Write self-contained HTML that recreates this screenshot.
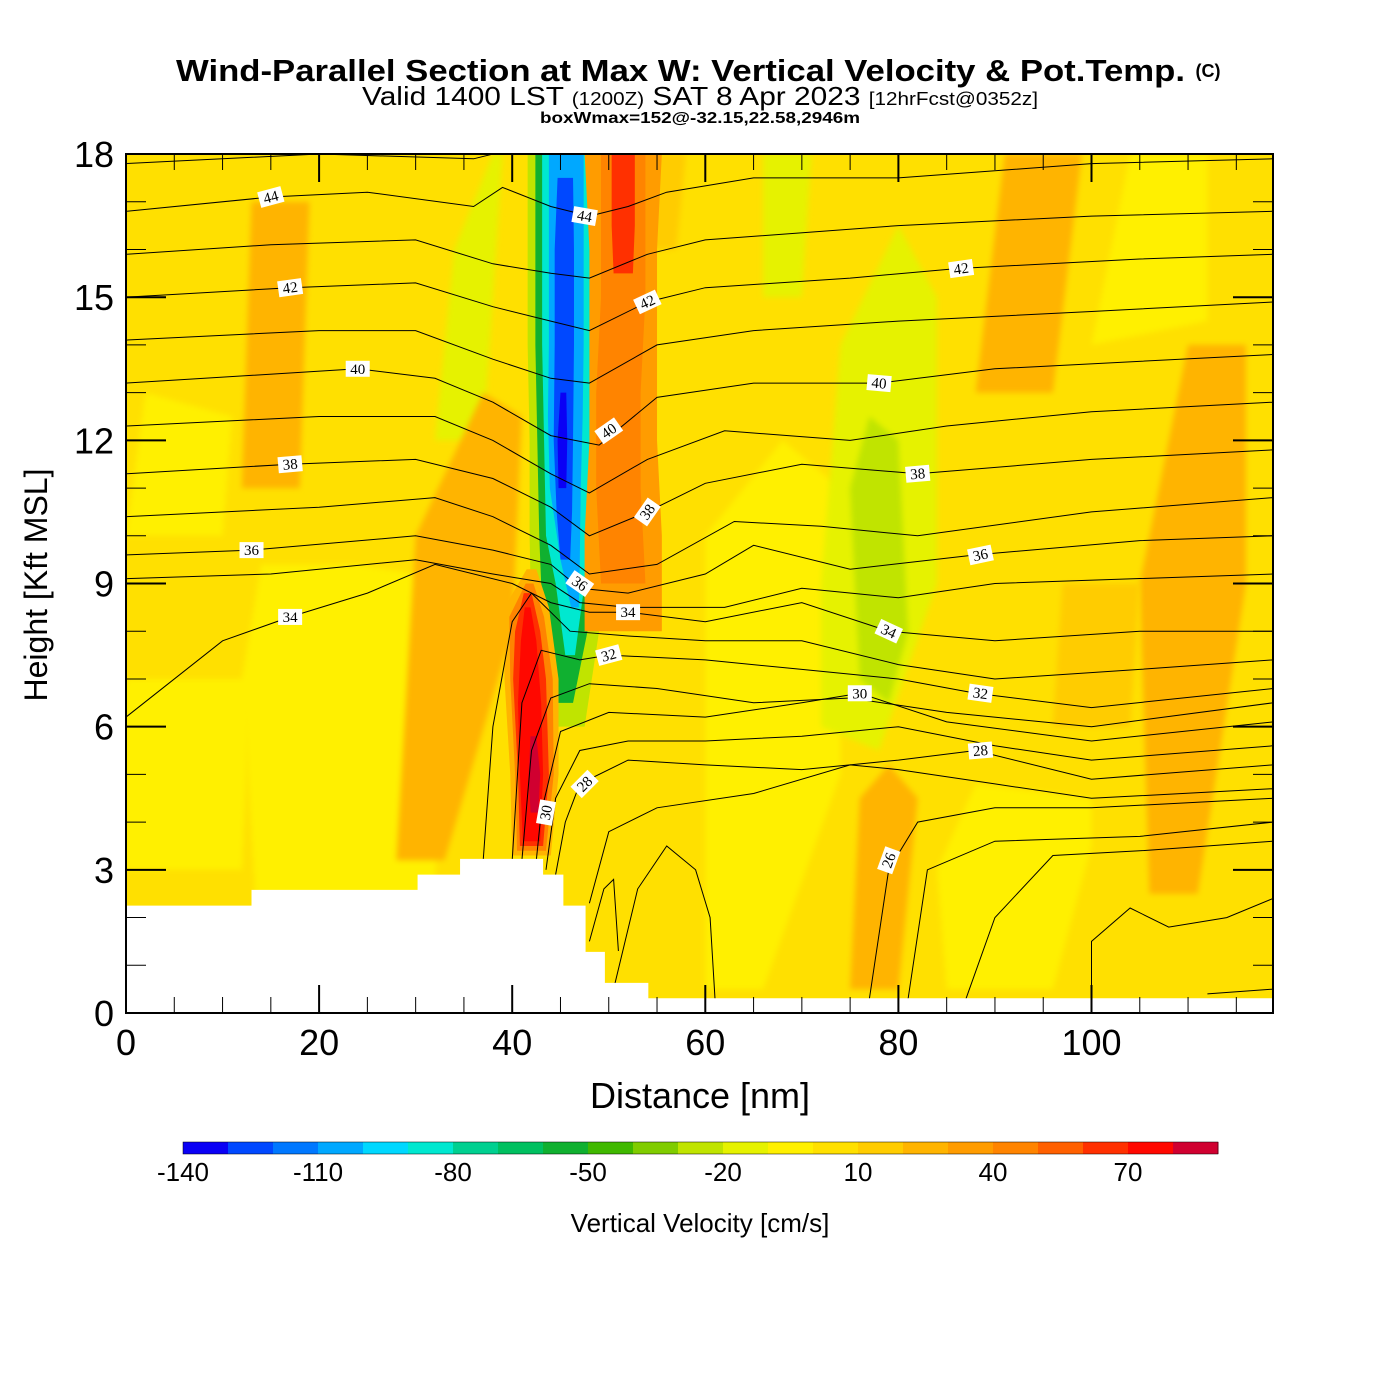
<!DOCTYPE html>
<html><head><meta charset="utf-8">
<style>
body{margin:0;background:#fff;width:1400px;height:1400px;overflow:hidden;font-family:"Liberation Sans",Arial,sans-serif}
svg{position:absolute;left:0;top:0}
</style></head>
<body>
<svg id="chart" width="1400" height="1400" viewBox="0 0 1400 1400" xmlns="http://www.w3.org/2000/svg">
<defs><clipPath id="pc"><rect x="126" y="154" width="1147" height="859"/></clipPath>
<filter id="bl" x="-20%" y="-20%" width="140%" height="140%"><feGaussianBlur stdDeviation="3"/></filter></defs>
<g>
<text x="176" y="81" font-size="31" font-weight="bold" textLength="1009" lengthAdjust="spacingAndGlyphs">Wind-Parallel Section at Max W: Vertical Velocity &amp; Pot.Temp.</text>
<text x="1208" y="77" text-anchor="middle" font-size="18" font-weight="bold">(C)</text>
<text x="362" y="105" font-size="26" textLength="676" lengthAdjust="spacingAndGlyphs"><tspan>Valid 1400 LST </tspan><tspan font-size="18">(1200Z)</tspan><tspan> SAT 8 Apr 2023 </tspan><tspan font-size="18">[12hrFcst@0352z]</tspan></text>
<text x="540" y="123" font-size="16" font-weight="bold" textLength="320" lengthAdjust="spacingAndGlyphs">boxWmax=152@-32.15,22.58,2946m</text>
</g>
<g id="field" clip-path="url(#pc)"></g>
<g id="contours" clip-path="url(#pc)"></g>
<g id="terrain"></g>
<g id="labels"></g>
<rect x="126" y="154" width="1147" height="859" fill="none" stroke="#000" stroke-width="2"/>
<g id="axes"></g>
<text x="700" y="1108" text-anchor="middle" font-size="36">Distance [nm]</text>
<text x="0" y="0" transform="translate(47,585) rotate(-90)" text-anchor="middle" font-size="32">Height [Kft MSL]</text>
<g id="cbar"></g>
<text x="700" y="1232" text-anchor="middle" font-size="26">Vertical Velocity [cm/s]</text>
</svg>
<script>
const cbValues=[-140,-130,-120,-110,-100,-90,-80,-70,-60,-50,-40,-30,-20,-10,0,10,20,30,40,50,60,70,80];
const cbColors=["#0a00f5","#0048ff","#0078ff","#00a8ff","#00d8ff","#00e8d0","#00d090","#00c060","#10b030","#40b800","#80cc00","#c0e400","#e6f200","#fff000","#ffe000","#ffcc00","#ffb400","#ff9c00","#ff8400","#ff6000","#ff3000","#ff0800","#d00030"];
const cbTicks=[-140,-110,-80,-50,-20,10,40,70];
const xTicks=[0,20,40,60,80,100];
const yTicks=[0,3,6,9,12,15,18];
const X=v=>126+v*9.655, Y=h=>1013-h*47.72;
const NS="http://www.w3.org/2000/svg";
function mk(tag,attrs,parent){const e=document.createElementNS(NS,tag);for(const k in attrs)e.setAttribute(k,attrs[k]);parent.appendChild(e);return e;}
function col(v){return cbColors[Math.max(0,Math.min(cbColors.length-1,Math.round((v+140)/10)))];}

const field=document.getElementById('field');
const fb=mk('rect',{x:126,y:154,width:1147,height:859,fill:col(0)},field);


const patchVel=[-10,-10,-10,-10,-10,-20,-20,-20,-30,20,20,20,20,20,10,10,-10];
const patchX=[[14,22,32,33,30,24,14,12],[60,66,74,74,68,60],[85,96,100,100,88,84],[100,112,112,104],[0,10,11,2],[32,37,39,38,34],[66,70,71,66],[72,78,84,84,80,74,72],[76,79,81,80,77,75],[12,18,19,13],[28,33,40,41,37,30],[75,80,82,79,76],[106,111,116,116,110,105],[88,96,99,91],[52,57,58,53],[96,104,105,97],[0,12,13,0]];
const patchH=[[0.5,0.5,2.6,8,9.2,9.4,9.4,7],[0.5,0.5,5,11,12,10],[0.5,0.5,3.5,4.5,4.8,3],[14,14.5,18,18],[10,10,12.5,13],[12,12,18,18,16],[15,15,18,18],[6,5.5,9,15,16.5,14,9],[7,6.5,8,12,12.5,11],[11,11,17,17],[3.2,3.2,8,12.5,13,10],[0.5,0.5,4.5,5.2,4.5],[2.5,2.5,9,14,14,9],[13,13,18,18],[16,16,18,18],[6,6,9,9],[3,3,7,7]];
patchVel.forEach((v,i)=>{
 const pts=patchX[i].map((x,j)=>X(x)+','+Y(patchH[i][j])).join(' ');
 const p=mk('polygon',{points:pts,fill:col(v),filter:'url(#bl)'},field);
 
 
});
const stripeVel=[-30,-60,-90,-110,-130,-140,30,40,60,20,40,60,70,80];
const stripeH=[[6,8,10,12,14,16,18],[6.5,8,10,12,14,16,18],[7.5,9,10,12,14,16,18],[8.5,9.5,11,12.5,14,16,18],[9.5,10.5,12,14,16,17.5],[11,12,13],[8,10,12,14,16,18],[9,11,13,15,16.5,18],[15.5,16.5,18],[3.3,5,7,8.5,9.3],[3.4,5,7,8.3,9],[3.5,5,7,8,8.8],[3.6,5,6.5,7.8,8.5],[4.2,5,5.8]];
const stripeC=[[45.5,45.5,45.8,45.8,45.6,45.6,45.6],[45.5,45.5,45.8,45.8,45.6,45.6,45.6],[46,46,45.8,45.8,45.6,45.6,45.6],[46.5,46,45.5,45.5,45.6,45.6,45.6],[45.5,45.4,45.3,45.4,45.4,45.5],[45.2,45.2,45.3],[51.5,51.5,51.5,51.5,51.5,51.5],[51.5,51,51,51.5,51.5,51.5],[51.5,51.5,51.5],[42,42.3,42,41.5,42],[42,42.3,42,41.5,41.8],[42,42.2,41.8,41.6,41.6],[42,42,41.8,41.7,41.6],[42.3,42.3,42.2]];
const stripeW=[[2,3.5,4,4,4,4,4],[0.8,2.3,3,3.2,3.2,3.2,3.2],[0.5,1.5,2.3,2.5,2.5,2.5,2.5],[0.4,1,1.6,1.8,1.8,1.8,1.8],[0.5,0.8,1,1,1,0.8],[0.4,0.5,0.3],[4,4,3.5,3.5,3.5,4],[2.3,2.3,2.3,2.3,2.3,2.3],[1,1.2,1.2],[2,2.5,2.8,2.3,0.5],[1.5,2,2.2,1.8,0.4],[1.2,1.6,1.7,1.3,0.4],[0.9,1.2,1.2,0.8,0.3],[0.4,0.6,0.3]];
stripeVel.forEach((v,i)=>{
 const H=stripeH[i],C=stripeC[i],W=stripeW[i];
 const L=H.map((h,j)=>X(C[j]-W[j])+','+Y(h)), R=H.map((h,j)=>X(C[j]+W[j])+','+Y(h)).reverse();
 const p=mk('polygon',{points:L.concat(R).join(' '),fill:col(v)},field);
 
 
});

const levels=[45,44,43,42,41,40,39,38,37,36,35,34,33,32,31,30,29,28,27,26];
const lvX=[[0,20,36,40,45,50,60,80,100,118.8],[0,15,25,36,39,44,48,52,56,65,80,100,118.8],[0,15,30,38,44,48,54,60,80,100,118.8],[0,17,30,38,44,48,54,60,75,86,105,118.8],[0,20,30,38,44,48,55,65,80,100,118.8],[0,24,32,38,44,49,55,65,78,90,118.8],[0,20,32,38,44,48,54,62,75,85,100,118.8],[0,17,30,38,44,48,54,60,70,82,100,118.8],[0,20,32,38,44,48,55,63,72,82,100,118.8],[0,13,30,38,44,47,52,60,65,75,88,105,118.8],[0,15,30,38,44,47,52,62,70,80,90,118.8],[0,10,17,25,32,40,44,48,52,60,70,79,90,105,118.8],[37,38,40,42,46,52,60,70,80,90,105,118.8],[40,41,43,47,50,60,70,80,88,100,118.8],[41,42,44,48,55,65,75,85,100,118.8],[42.5,43,45,50,60,70,76,85,100,118.8],[43.5,44.5,47,52,60,70,80,90,100,118.8],[44.5,45.5,47,52,60,70,80,88,100,118.8],[48,50,55,65,75,80,90,100,118.8],[77,79,82,90,100,118.8]];
const lvH=[[17.8,18.0,17.9,18.1,18.2,18.3,18.3,18.3,18.2,18.1],[16.8,17.1,17.2,16.9,17.3,16.9,16.7,16.9,17.2,17.5,17.5,17.8,17.9],[15.9,16.1,16.2,15.7,15.5,15.4,15.9,16.2,16.5,16.7,16.8],[15.0,15.2,15.3,14.8,14.5,14.3,14.9,15.2,15.4,15.6,15.8,15.9],[14.1,14.3,14.3,13.7,13.3,13.2,14.0,14.3,14.5,14.7,14.9],[13.2,13.5,13.3,12.8,12.1,11.9,12.9,13.2,13.2,13.5,13.8],[12.3,12.5,12.5,12.0,11.3,10.9,11.6,12.2,12.0,12.3,12.6,12.8],[11.3,11.5,11.6,11.2,10.6,10.0,10.5,11.1,11.5,11.3,11.6,11.8],[10.4,10.6,10.8,10.4,9.8,9.2,9.4,10.3,10.2,10.0,10.5,10.8],[9.6,9.7,10.0,9.7,9.4,8.9,8.8,9.2,9.8,9.3,9.6,9.9,10.0],[9.1,9.2,9.5,9.2,9.0,8.6,8.5,8.5,8.9,8.7,9.0,9.2],[6.2,7.8,8.3,8.8,9.4,9.0,8.6,8.4,8.4,8.2,8.6,8.0,7.8,8.0,8.0],[3.2,6,8.2,8.8,8.0,7.9,7.8,7.8,7.3,7.0,7.2,7.4],[3.2,6.5,7.6,7.4,7.5,7.4,7.2,7.0,6.7,6.4,6.8],[3.2,5.5,6.6,6.9,6.8,6.5,6.6,6.3,6.0,6.5],[3.2,4.2,5.9,6.3,6.2,6.5,6.7,6.1,5.7,6.1],[3.0,4.5,5.5,5.7,5.7,5.8,6.0,5.6,5.3,5.6],[2.9,4.0,4.8,5.3,5.2,5.1,5.3,5.5,4.9,5.2],[2.3,3.8,4.3,4.6,5.2,5.1,4.8,4.5,4.7],[0.3,3.0,4.0,4.3,4.3,4.5]];
const extraX=[[48,49.5,50.5,51],[50.5,53,56,59,60.5,61],[81,83,90,105,118.8],[87,90,96,105,118.8],[100,100,104,108,114,118.8],[112,118.8]];
const extraH=[[1.5,2.6,2.8,1.3],[0.5,2.6,3.5,3.0,2.0,0.3],[0.3,3.0,3.6,3.7,4.0],[0.3,2.0,3.3,3.4,3.6],[0.3,1.5,2.2,1.8,2.0,2.4],[0.4,0.5]];
const cont=document.getElementById('contours');
function line(xs,hs,name){
 const d=xs.map((x,j)=>(j?'L':'M')+X(x).toFixed(1)+','+Y(hs[j]).toFixed(1)).join('');
 const p=mk('path',{d:d,fill:'none',stroke:'#000','stroke-width':1},cont);
 
 
}
levels.forEach((lv,i)=>line(lvX[i],lvH[i],'theta-contour-'+lv));
extraX.forEach((xs,i)=>line(xs,extraH[i],'theta-contour-extra'));

const terrX=[0,13,13,30.2,30.2,34.6,34.6,43.2,43.2,45.3,45.3,47.6,47.6,49.6,49.6,54.1,54.1,118.8];
const terrH=[2.25,2.25,2.58,2.58,2.9,2.9,3.23,3.23,2.9,2.9,2.25,2.25,1.28,1.28,0.63,0.63,0.31,0.31];
const tp=terrX.map((x,j)=>X(x)+','+Y(terrH[j]));
tp.push(X(118.8)+','+Y(0),X(0)+','+Y(0));
const tg=mk('polygon',{points:tp.join(' '),fill:'#fff'},document.getElementById('terrain'));



const labText=[44,42,40,38,36,34,44,42,40,38,36,34,32,30,28,42,40,38,36,34,32,30,28,26];
const labX=[15,17,24,17,13,17,47.5,54,50,54,47,52,50,43.5,47.5,86.5,78,82,88.5,79,88.5,76,88.5,79];
const labH=[17.1,15.2,13.5,11.5,9.7,8.3,16.7,14.9,12.2,10.5,9.0,8.4,7.5,4.2,4.8,15.6,13.2,11.3,9.6,8.0,6.7,6.7,5.5,3.2];
const labRot=[-15,-8,0,-5,0,0,10,-25,-35,-55,35,0,-15,-80,-45,-8,5,-5,-12,25,8,0,-5,-70];
const lg=document.getElementById('labels');
labText.forEach((t,i)=>{
 const g=mk('g',{transform:`translate(${X(labX[i])},${Y(labH[i])}) rotate(${labRot[i]})`},lg);
 
 
 mk('rect',{x:-12,y:-8,width:24,height:16,fill:'#fff'},g);
 const tx=mk('text',{x:0,y:5,'text-anchor':'middle','font-size':15,'font-family':'"Liberation Serif",serif'},g);
 tx.textContent=t;
});

const ax=document.getElementById('axes');
xTicks.forEach(v=>{
 mk('line',{x1:X(v),x2:X(v),y1:1013,y2:985,stroke:'#000','stroke-width':2},ax);
 mk('line',{x1:X(v),x2:X(v),y1:154,y2:182,stroke:'#000','stroke-width':2},ax);
 const t=mk('text',{x:X(v),y:1055,'text-anchor':'middle','font-size':36},ax);t.textContent=v;
 
 
});
for(let v=5;v<119;v+=5){if(v%20===0)continue;
 mk('line',{x1:X(v),x2:X(v),y1:1013,y2:997,stroke:'#000','stroke-width':1},ax);
 mk('line',{x1:X(v),x2:X(v),y1:154,y2:170,stroke:'#000','stroke-width':1},ax);}
yTicks.forEach(v=>{
 mk('line',{x1:126,x2:166,y1:Y(v),y2:Y(v),stroke:'#000','stroke-width':2},ax);
 mk('line',{x1:1273,x2:1233,y1:Y(v),y2:Y(v),stroke:'#000','stroke-width':2},ax);
 const t=mk('text',{x:114,y:Y(v)+13,'text-anchor':'end','font-size':36},ax);t.textContent=v;
 
 
});
for(let v=1;v<18;v++){if(v%3===0)continue;
 mk('line',{x1:126,x2:146,y1:Y(v),y2:Y(v),stroke:'#000','stroke-width':1},ax);
 mk('line',{x1:1273,x2:1253,y1:Y(v),y2:Y(v),stroke:'#000','stroke-width':1},ax);}

const cb=document.getElementById('cbar');
const CX=v=>183+(v+140)*4.5;
cbValues.forEach((v,i)=>{
 const r=mk('rect',{x:CX(v),y:1142,width:45.5,height:12,fill:cbColors[i]},cb);
 
 
});
mk('rect',{x:183,y:1142,width:1035,height:12,fill:'none',stroke:'#000','stroke-width':0.5},cb);
cbTicks.forEach(v=>{
 const t=mk('text',{x:CX(v),y:1181,'text-anchor':'middle','font-size':26},cb);t.textContent=v;
 
 
});
</script>
</body></html>
